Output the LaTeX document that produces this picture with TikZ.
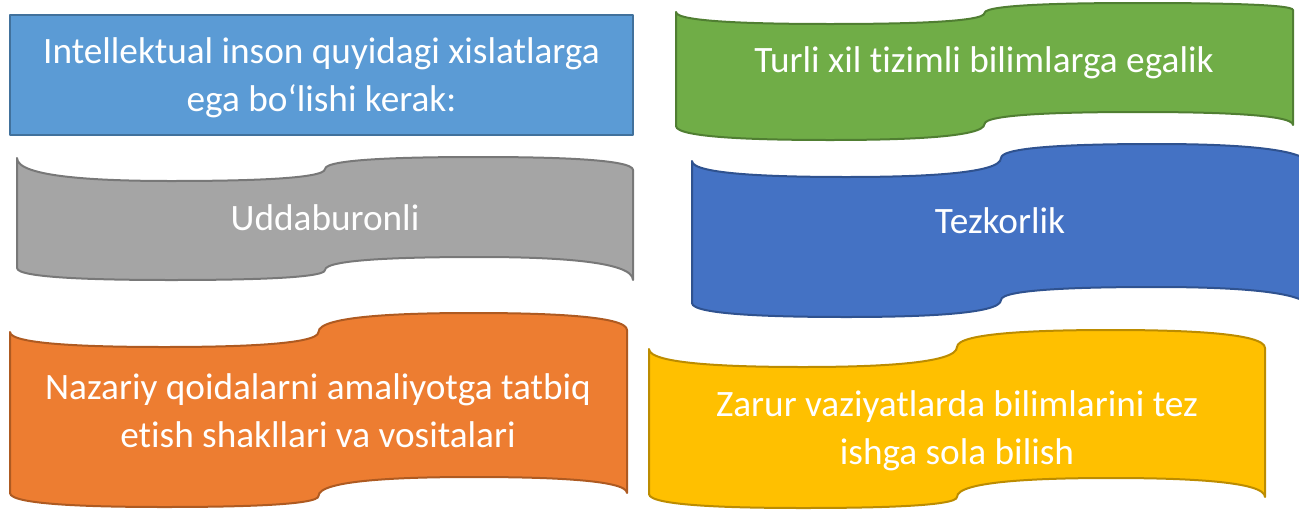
\documentclass[tikz,border=0pt]{standalone}
\usepackage{fontspec}
\setmainfont{Carlito}[Ligatures={NoCommon}]
\definecolor{rectfill}{HTML}{5B9BD5}
\definecolor{rectline}{HTML}{41719C}
\definecolor{grayfill}{HTML}{A5A5A5}
\definecolor{grayline}{HTML}{787878}
\definecolor{greenfill}{HTML}{70AD47}
\definecolor{greenline}{HTML}{507E32}
\definecolor{bluefill}{HTML}{4472C4}
\definecolor{blueline}{HTML}{2F528F}
\definecolor{orangefill}{HTML}{ED7D31}
\definecolor{orangeline}{HTML}{AE5A21}
\definecolor{yellowfill}{HTML}{FFC000}
\definecolor{yellowline}{HTML}{BC8C00}
\def\wvtop#1/#2/#3/#4/#5\wvend{\def\tA{#1}\def\tB{#2}\def\tC{#3}\def\tD{#4}\def\tE{#5}}
\def\wvbot#1/#2/#3/#4/#5\wvend{\def\bA{#1}\def\bB{#2}\def\bC{#3}\def\bD{#4}\def\bE{#5}}
\def\wkv{0.85}
\def\wkh{0.45}
\newcommand\wavebox[5]{%
  \wvtop#4\wvend
  \wvbot#5\wvend
  \pgfmathsetmacro\xL{#2}%
  \pgfmathsetmacro\xR{#3}%
  \pgfmathsetmacro\xM{(\xL+\xR)/2}%
  \pgfmathsetmacro\xP{(\xL+\xM)/2}%
  \pgfmathsetmacro\xQ{(\xM+\xR)/2}%
  \pgfmathsetmacro\qq{(\xR-\xL)/4}%
  \pgfmathsetmacro\cLP{\xP-\wkh*\qq}%
  \pgfmathsetmacro\cPM{\xP+\wkh*\qq}%
  \pgfmathsetmacro\cMQ{\xQ-\wkh*\qq}%
  \pgfmathsetmacro\cQR{\xQ+\wkh*\qq}%
  \pgfmathsetmacro\tLa{\tA+\wkv*(\tB-\tA)}%
  \pgfmathsetmacro\tMa{\tC+\wkv*(\tB-\tC)}%
  \pgfmathsetmacro\tMb{\tC+\wkv*(\tD-\tC)}%
  \pgfmathsetmacro\tRa{\tE+\wkv*(\tD-\tE)}%
  \pgfmathsetmacro\bLa{\bA+\wkv*(\bB-\bA)}%
  \pgfmathsetmacro\bMa{\bC+\wkv*(\bB-\bC)}%
  \pgfmathsetmacro\bMb{\bC+\wkv*(\bD-\bC)}%
  \pgfmathsetmacro\bRa{\bE+\wkv*(\bD-\bE)}%
  \path[#1] (\xL,\tA) .. controls (\xL,\tLa) and (\cLP,\tB) .. (\xP,\tB)
    .. controls (\cPM,\tB) and (\xM,\tMa) .. (\xM,\tC)
    .. controls (\xM,\tMb) and (\cMQ,\tD) .. (\xQ,\tD)
    .. controls (\cQR,\tD) and (\xR,\tRa) .. (\xR,\tE)
    -- (\xR,\bE)
    .. controls (\xR,\bRa) and (\cQR,\bD) .. (\xQ,\bD)
    .. controls (\cMQ,\bD) and (\xM,\bMb) .. (\xM,\bC)
    .. controls (\xM,\bMa) and (\cPM,\bB) .. (\xP,\bB)
    .. controls (\cLP,\bB) and (\xL,\bLa) .. (\xL,\bA)
    -- cycle;%
}
\tikzset{
  shp/.style={line width=0.4mm, line join=round},
  lbl/.style={text=white, font=\fontsize{21.2}{27.3}\selectfont, inner sep=0pt, align=center},
}
\begin{document}
\begin{tikzpicture}[x=0.2mm, y=-0.2mm]
\useasboundingbox (0,0) rectangle (1299,510);
% title box
\path[shp, draw=rectline, fill=rectfill] (10,15) rectangle (633,135);
\node (intro) [lbl] at (321.5,78)
  {Intellektual inson quyidagi xislatlarga\\ega bo‘lishi kerak:};
% waves
\wavebox{shp, draw=grayline, fill=grayfill}{17}{633}{158/181/169/157/170}{268/280/270/257/280}
\wavebox{shp, draw=greenline, fill=greenfill}{676}{1293}{12/24/13/3/10}{126/140/124/112/125}
\wavebox{shp, draw=blueline, fill=bluefill}{692}{1310}{161/177/158/144/166}{303/317/300/287/309}
\wavebox{shp, draw=orangeline, fill=orangefill}{10}{627}{332/347/332/313/330}{493/507/496/477/493}
\wavebox{shp, draw=yellowline, fill=yellowfill}{649}{1265}{349/367/347/330/348}{494/508/497/478/497}
% labels
\node (green) [lbl, anchor=base] at (984,72) {Turli xil tizimli bilimlarga egalik};
\node (gray) [lbl, anchor=base] at (325,230) {Uddaburonli};
\node (blue) [lbl, anchor=base] at (1000,233) {Tezkorlik};
\node (orange) [lbl] at (318,411) {Nazariy qoidalarni amaliyotga tatbiq\\etish shakllari va vositalari};
\node (yellow) [lbl] at (957,431) {Zarur vaziyatlarda bilimlarini tez\\ishga sola bilish};
\end{tikzpicture}
\end{document}
